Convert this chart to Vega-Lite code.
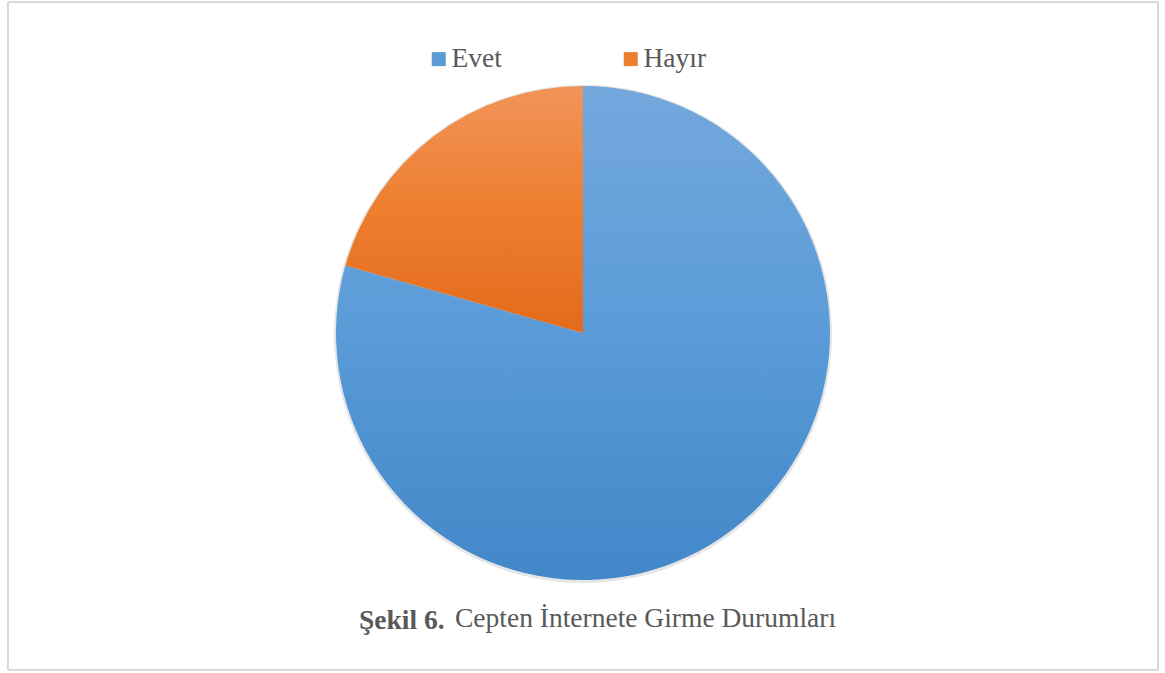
{
  "$schema": "https://vega.github.io/schema/vega-lite/v6.json",
  "width": 1165,
  "height": 673,
  "autosize": {"type": "fit", "contains": "padding"},
  "padding": {"left": 7, "right": 6, "top": 1, "bottom": 2},
  "background": "white",
  "data": {"values": [
    {"durum": "Evet", "oran": 79.4},
    {"durum": "Hayır", "oran": 20.6}
  ]},
  "title": {
    "text": "Şekil 6.",
    "subtitle": "Cepten İnternete Girme Durumları",
    "orient": "bottom",
    "anchor": "start",
    "dx": 352,
    "offset": -64,
    "font": "Liberation Serif",
    "fontSize": 27.5,
    "fontWeight": "bold",
    "color": "#595959",
    "subtitleFont": "Liberation Serif",
    "subtitleFontSize": 27.5,
    "subtitleFontWeight": "normal",
    "subtitleColor": "#595959",
    "subtitlePadding": -30,
    "encode": {"subtitle": {"update": {"dx": {"value": 448}}}}
  },
  "layer": [
    {
      "mark": {"type": "rect", "filled": false, "stroke": "#d9d9d9", "strokeWidth": 2, "cornerRadius": 2},
      "encoding": {
        "x": {"value": 0},
        "x2": {"value": "width"},
        "y": {"value": 0},
        "y2": {"value": "height"}
      }
    },
    {
      "mark": {"type": "arc", "radius": 0},
      "encoding": {
        "theta": {"field": "oran", "type": "quantitative", "stack": true},
        "color": {
          "field": "durum",
          "type": "nominal",
          "scale": {"domain": ["Evet", "Hayır"], "range": ["#5B9BD5", "#ED7D31"]},
          "legend": {
            "title": null,
            "orient": "none",
            "legendX": 417,
            "legendY": 43,
            "direction": "horizontal",
            "columns": 2,
            "columnPadding": 115,
            "symbolType": "square",
            "symbolSize": 196,
            "symbolStrokeWidth": 0,
            "symbolOpacity": 1,
            "labelOffset": -1,
            "labelFont": "Liberation Serif",
            "labelFontSize": 27.5,
            "labelColor": "#595959",
            "padding": 0
          }
        }
      }
    },
    {
      "mark": {"type": "arc", "radius": 249, "yOffset": -2, "fill": "#000000", "opacity": 0.1},
      "encoding": {
        "theta": {"field": "oran", "type": "quantitative", "stack": true},
        "detail": {"field": "durum", "type": "nominal"}
      }
    },
    {
      "mark": {"type": "arc", "radius": 247, "yOffset": -3},
      "encoding": {
        "theta": {"field": "oran", "type": "quantitative", "stack": true},
        "detail": {"field": "durum", "type": "nominal"},
        "fill": {
          "condition": {
            "test": "datum.durum === 'Evet'",
            "value": {"gradient": "linear", "x1": 0, "y1": 0, "x2": 0, "y2": 1,
              "stops": [{"offset": 0, "color": "#74A8DD"}, {"offset": 0.5, "color": "#5A9BD8"}, {"offset": 1, "color": "#4287C8"}]}
          },
          "value": {"gradient": "linear", "x1": 0, "y1": 0, "x2": 0, "y2": 1,
            "stops": [{"offset": 0, "color": "#F19459"}, {"offset": 0.5, "color": "#EE7E2F"}, {"offset": 1, "color": "#E36A1B"}]}
        }
      }
    }
  ],
  "config": {
    "view": {"stroke": null}
  }
}
